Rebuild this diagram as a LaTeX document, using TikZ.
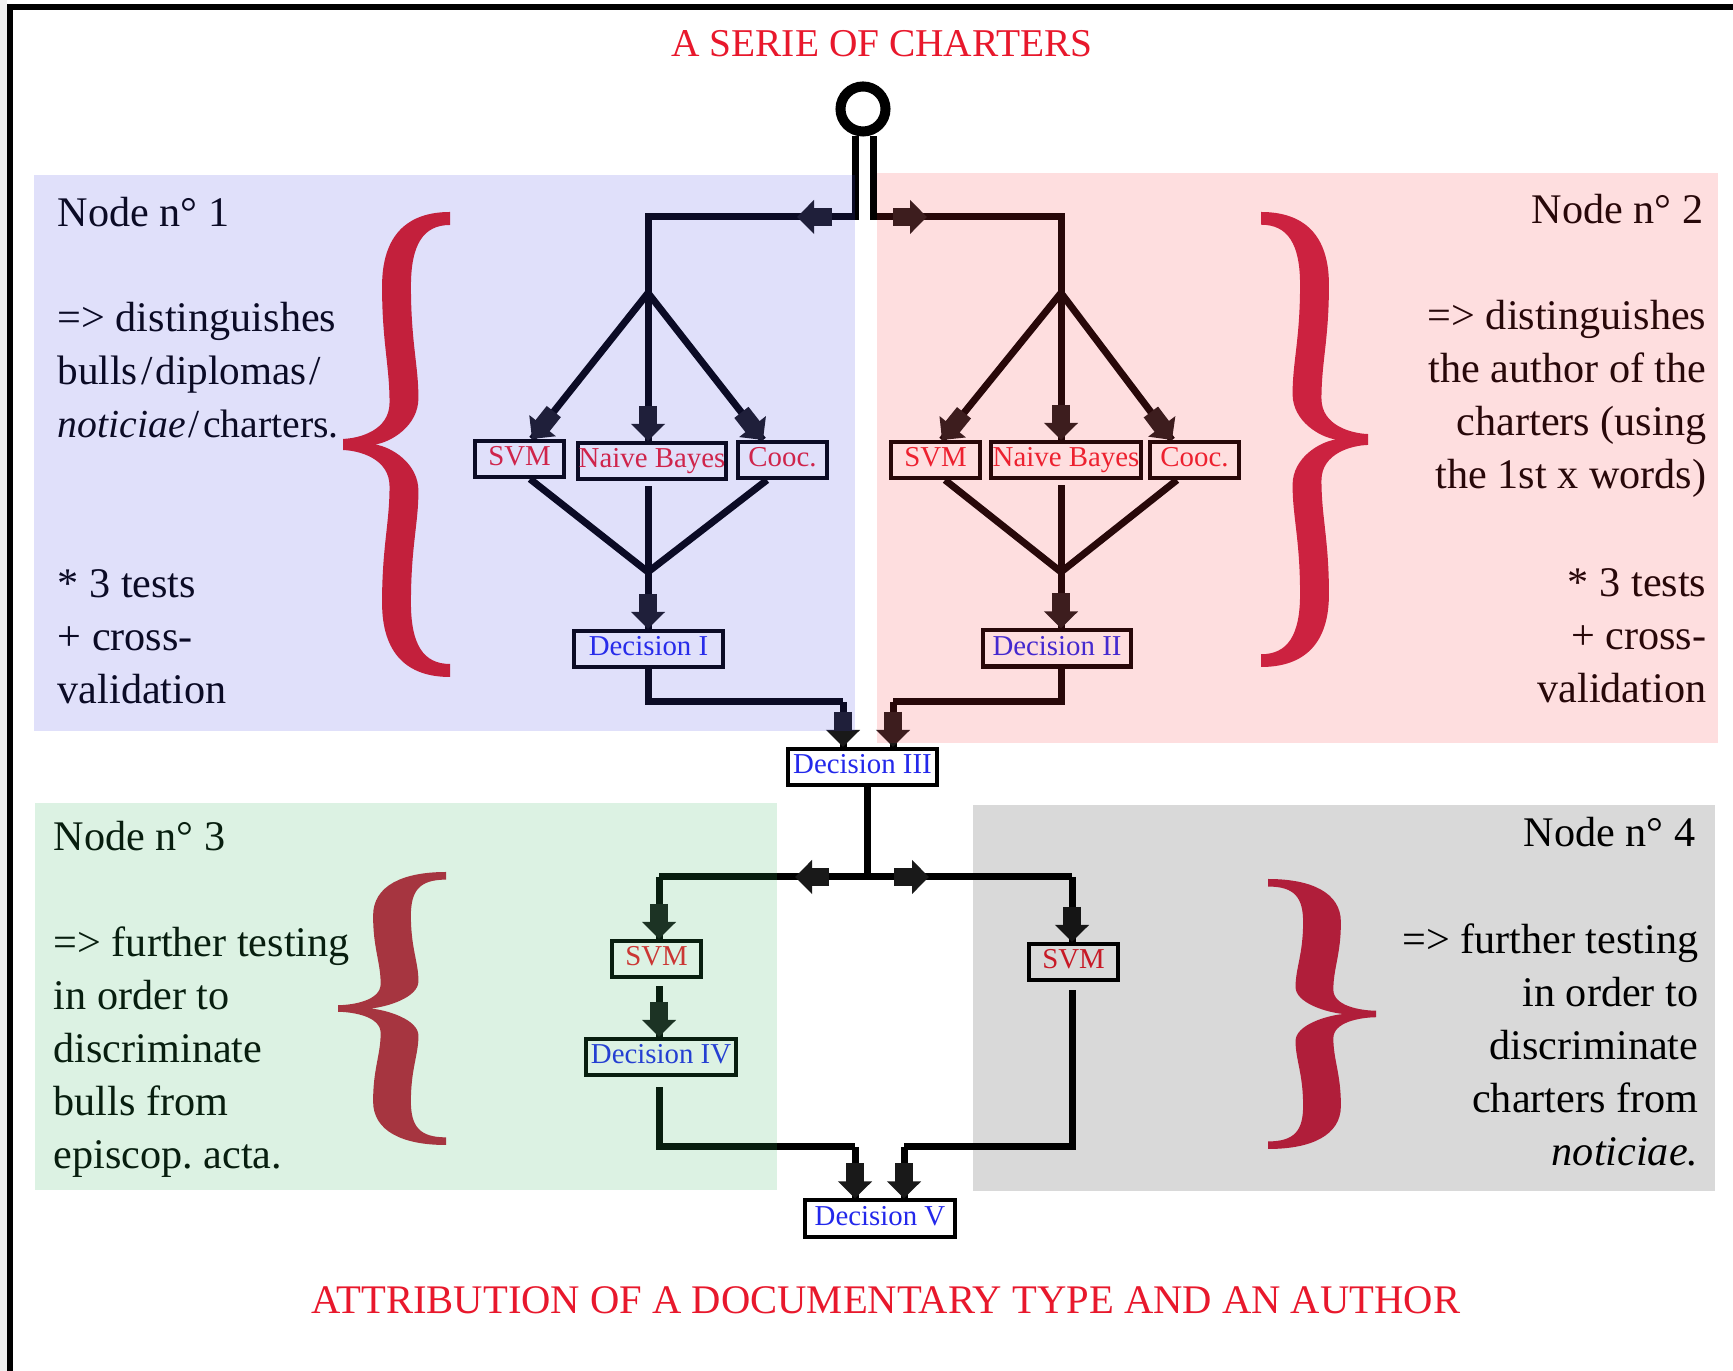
\documentclass[tikz,border=0pt]{standalone}
\usepackage{fontspec}
\setmainfont{Liberation Serif}
\usetikzlibrary{arrows.meta,calc}
\frenchspacing
\definecolor{ttlred}{RGB}{232,24,44}
\definecolor{boxred}{RGB}{235,30,45}
\definecolor{boxblue}{RGB}{35,40,235}
\definecolor{ovblue}{RGB}{67,67,230}
\definecolor{ovpink}{RGB}{250,50,62}
\definecolor{ovgreen}{RGB}{48,182,91}
\definecolor{brA}{RGB}{195,32,60}
\definecolor{brB}{RGB}{204,34,64}
\definecolor{brC}{RGB}{166,53,64}
\definecolor{brD}{RGB}{176,30,58}
\tikzset{
  ln/.style={line width=0.7mm, draw=black},
  blk/.style={line width=1.8mm, draw=black!90, -{Triangle[width=3.3mm,length=1.7mm]}},
  algbox/.style={draw=black, line width=0.4mm, minimum height=3.6mm, inner sep=0pt,
    text height=1.86mm, text depth=0.5mm, font=\fontsize{8.2}{9}\selectfont, text=boxred},
  decbox/.style={algbox, text=boxblue},
  txt/.style={inner sep=0pt, font=\fontsize{12}{14}\selectfont, text=black},
  ttl/.style={inner sep=0pt, text=ttlred, anchor=base}
}
\newcommand\myslash{\hspace{0.08em}/\hspace{0.08em}}
\newcommand\arrowto[2]{\draw[ln] (#1) -- (#2); \draw[blk] ($(#2)!3.5mm!(#1)$) -- (#2);}
\newcommand\bracepath[1]{%
 \fill (1,0) .. controls (0.6,0) and ({0.50-#1/2},0.05) .. ({0.50-#1/2},0.16)
 .. controls ({0.50-#1/2},0.28) and ({0.57-#1/2},0.33) .. ({0.57-#1/2},0.41)
 .. controls ({0.57-#1/2},0.47) and (0.15,0.487) .. (0,0.488)
 -- (0,0.512)
 .. controls (0.15,0.513) and ({0.57-#1/2},0.53) .. ({0.57-#1/2},0.59)
 .. controls ({0.57-#1/2},0.67) and ({0.50-#1/2},0.72) .. ({0.50-#1/2},0.84)
 .. controls ({0.50-#1/2},0.95) and (0.6,1) .. (1,1)
 -- (1,0.972)
 .. controls (0.75,0.972) and ({0.50+#1/2},0.93) .. ({0.50+#1/2},0.84)
 .. controls ({0.50+#1/2},0.72) and ({0.57+#1/2},0.67) .. ({0.57+#1/2},0.60)
 .. controls ({0.57+#1/2},0.54) and (0.45,0.505) .. (0.30,0.5)
 .. controls (0.45,0.495) and ({0.57+#1/2},0.46) .. ({0.57+#1/2},0.40)
 .. controls ({0.57+#1/2},0.33) and ({0.50+#1/2},0.28) .. ({0.50+#1/2},0.16)
 .. controls ({0.50+#1/2},0.07) and (0.75,0.028) .. (1,0.028)
 -- cycle;}
\begin{document}
\begin{tikzpicture}[x=0.01cm, y=-0.01cm]
\useasboundingbox (0,0) rectangle (1733,1371);
\fill[white] (0,0) rectangle (1733,1371);
\fill[black!6] (0,0) rectangle (7,1371);
\draw[line width=0.6mm] (10,1371) -- (10,7) -- (1733,7);

% titles
\node[ttl, font=\fontsize{11.2}{13}\selectfont] (top) at (882,57) {A SERIE OF CHARTERS};
\node[ttl, font=\fontsize{11.55}{13}\selectfont] (bottom) at (886,1314) {ATTRIBUTION OF A DOCUMENTARY TYPE AND AN AUTHOR};

% start circle
\node[circle, draw, line width=1mm, minimum size=4.5mm, inner sep=0pt] (start) at (863,109) {};

% boxes
\node[algbox, minimum width=8.9mm] (SVM1) at (519.5,459) {SVM};
\node[algbox, minimum width=14.8mm] (NB1) at (652,461) {Naive Bayes};
\node[algbox, minimum width=8.9mm] (CO1) at (782.5,460) {Cooc.};
\node[decbox, minimum width=14.9mm] (D1) at (648.5,649) {Decision I};
\node[algbox, minimum width=8.9mm] (SVM2) at (935.5,460) {SVM};
\node[algbox, minimum width=15mm] (NB2) at (1066,460) {Naive Bayes};
\node[algbox, minimum width=8.9mm] (CO2) at (1194.5,460) {Cooc.};
\node[decbox, minimum width=14.8mm] (D2) at (1057,648.5) {Decision II};
\node[decbox, minimum width=14.9mm] (D3) at (862.5,767) {Decision III};
\node[algbox, minimum width=8.9mm] (SVM3) at (656.5,959) {SVM};
\node[decbox, minimum width=15mm] (D4) at (661,1057) {Decision IV};
\node[algbox, minimum width=8.9mm] (SVM4) at (1073.5,962) {SVM};
\node[decbox, minimum width=15mm] (D5) at (880,1218.5) {Decision V};

% coordinates
\coordinate (vl) at (855,217); \coordinate (vr) at (873,217);
\coordinate (s1) at (648,293); \coordinate (m1) at (648,572);
\coordinate (s2) at (1061,293); \coordinate (m2) at (1061,572);
\coordinate (j1) at (843,702); \coordinate (j2) at (893,702);
\coordinate (s3) at (867,877);
\coordinate (c3) at (659,877); \coordinate (c4) at (1072,877);
\coordinate (k1) at (855,1147); \coordinate (k2) at (904,1147);

% top stems
\draw[ln] (start.south -| vl) -- (vl) -- (s1 |- vl) -- (s1);
\draw[ln] (start.south -| vr) -- (vr) -- (s2 |- vr) -- (s2);
\coordinate (a1) at (832,217); \coordinate (a1t) at (797,217);
\coordinate (a2) at (893,217); \coordinate (a2t) at (927,217);
\draw[blk] (a1) -- (a1t);
\draw[blk] (a2) -- (a2t);

% branch 1
\coordinate (tS1) at ([xshift=1.25mm]SVM1.north);
\coordinate (tN1) at (NB1.north -| s1);
\coordinate (tC1) at ([xshift=-1.95mm]CO1.north);
\arrowto{s1}{tS1} \arrowto{s1}{tN1} \arrowto{s1}{tC1}
\coordinate (bS1) at ([xshift=1.05mm]SVM1.south);
\coordinate (bN1) at (NB1.south -| s1);
\coordinate (bC1) at ([xshift=-1.55mm]CO1.south);
\draw[ln] (bS1) -- (m1);
\draw[ln, shorten <=0.5mm] (bN1) -- (m1);
\draw[ln] (bC1) -- (m1);
\coordinate (tD1) at (D1.north -| m1);
\arrowto{m1}{tD1}
\draw[ln] (D1.south) |- (j1);
\coordinate (tD3a) at (D3.north -| j1);
\arrowto{j1}{tD3a}

% branch 2
\coordinate (tS2) at ([xshift=0.65mm]SVM2.north);
\coordinate (tN2) at (NB2.north -| s2);
\coordinate (tC2) at ([xshift=-2.25mm]CO2.north);
\arrowto{s2}{tS2} \arrowto{s2}{tN2} \arrowto{s2}{tC2}
\coordinate (bS2) at ([xshift=0.95mm]SVM2.south);
\coordinate (bN2) at (NB2.south -| s2);
\coordinate (bC2) at ([xshift=-1.75mm]CO2.south);
\draw[ln] (bS2) -- (m2);
\draw[ln, shorten <=0.5mm] (bN2) -- (m2);
\draw[ln] (bC2) -- (m2);
\coordinate (tD2) at (D2.north -| m2);
\arrowto{m2}{tD2}
\draw[ln] (m2 |- D2.south) |- (j2);
\coordinate (tD3b) at (D3.north -| j2);
\arrowto{j2}{tD3b}

% lower part
\draw[ln] (D3.south -| s3) -- (s3);
\draw[ln] (s3) -- (c3);
\draw[ln] (s3) -- (c4);
\coordinate (a3) at (829,877); \coordinate (a3t) at (795,877);
\coordinate (a4) at (894,877); \coordinate (a4t) at (929,877);
\draw[blk] (a3) -- (a3t);
\draw[blk] (a4) -- (a4t);
\coordinate (tS3) at (SVM3.north -| c3);
\coordinate (tS4) at (SVM4.north -| c4);
\arrowto{c3}{tS3}
\arrowto{c4}{tS4}
\coordinate (bS3) at ($(SVM3.south -| c3)+(0,7)$);
\coordinate (tD4) at (D4.north -| c3);
\arrowto{bS3}{tD4}
\coordinate (bD4) at ($(D4.south -| c3)+(0,10)$);
\draw[ln] (bD4) |- (k1);
\coordinate (tD5a) at (D5.north -| k1);
\arrowto{k1}{tD5a}
\coordinate (bS4) at ($(SVM4.south -| c4)+(0,8)$);
\draw[ln] (bS4) |- (k2);
\coordinate (tD5b) at (D5.north -| k2);
\arrowto{k2}{tD5b}

% texts node 1
\node[txt, anchor=base west] (n1) at (57,227) {Node n° 1};
\node[txt, anchor=base west] (da0) at (57,332) {=> distinguishes};
\node[txt, anchor=base west, font=\fontsize{11.7}{14}\selectfont] (da1) at (57,385) {bulls\myslash diplomas\myslash};
\node[txt, anchor=base west, font=\fontsize{11.3}{14}\selectfont] (da2) at (57,438) {\textit{noticiae}\myslash charters.};
\foreach \t [count=\i from 0] in {{* 3 tests},{+ cross-},{validation}}
  \node[txt, anchor=base west] (ta\i) at (57,{598+53*\i}) {\t};
% node 2
\node[txt, anchor=base east] (n2) at (1704,224) {Node n° 2};
\foreach \t [count=\i from 0] in {{=> distinguishes},{the author of the},{charters (using},{the 1st x words)}}
  \node[txt, anchor=base east] (db\i) at (1707,{330+53*\i}) {\t};
\foreach \t [count=\i from 0] in {{* 3 tests},{+ cross-},{validation}}
  \node[txt, anchor=base east] (tb\i) at (1707,{597+53*\i}) {\t};
% node 3
\node[txt, anchor=base west] (n3) at (53,851) {Node n° 3};
\foreach \t [count=\i from 0] in {{=> further testing},{in order to},{discriminate},{bulls from},{episcop. acta.}}
  \node[txt, anchor=base west] (dc\i) at (53,{957+53*\i}) {\t};
% node 4
\node[txt, anchor=base east] (n4) at (1696,847) {Node n° 4};
\foreach \t [count=\i from 0] in {{=> further testing},{in order to},{discriminate},{charters from},{\textit{noticiae.}}}
  \node[txt, anchor=base east] (dd\i) at (1699,{954+53*\i}) {\t};

% translucent panels
\fill[ovblue, fill opacity=0.165] (34,175) rectangle (855,731);
\fill[ovpink, fill opacity=0.16] (877,173) rectangle (1718,743);
\fill[ovgreen, fill opacity=0.17] (35,803) rectangle (777,1190);
\fill[black, fill opacity=0.15] (973,805) rectangle (1715,1191);

% braces
\begin{scope}[shift={(343,212)}, xscale=107, yscale=465, fill=brA]
  \bracepath{0.27}
\end{scope}
\begin{scope}[shift={(1368,212)}, xscale=-107, yscale=455, fill=brB]
  \bracepath{0.27}
\end{scope}
\begin{scope}[shift={(338,872)}, xscale=108, yscale=273, fill=brC]
  \bracepath{0.35}
\end{scope}
\begin{scope}[shift={(1376,879)}, xscale=-108, yscale=270, fill=brD]
  \bracepath{0.35}
\end{scope}
\end{tikzpicture}
\end{document}
